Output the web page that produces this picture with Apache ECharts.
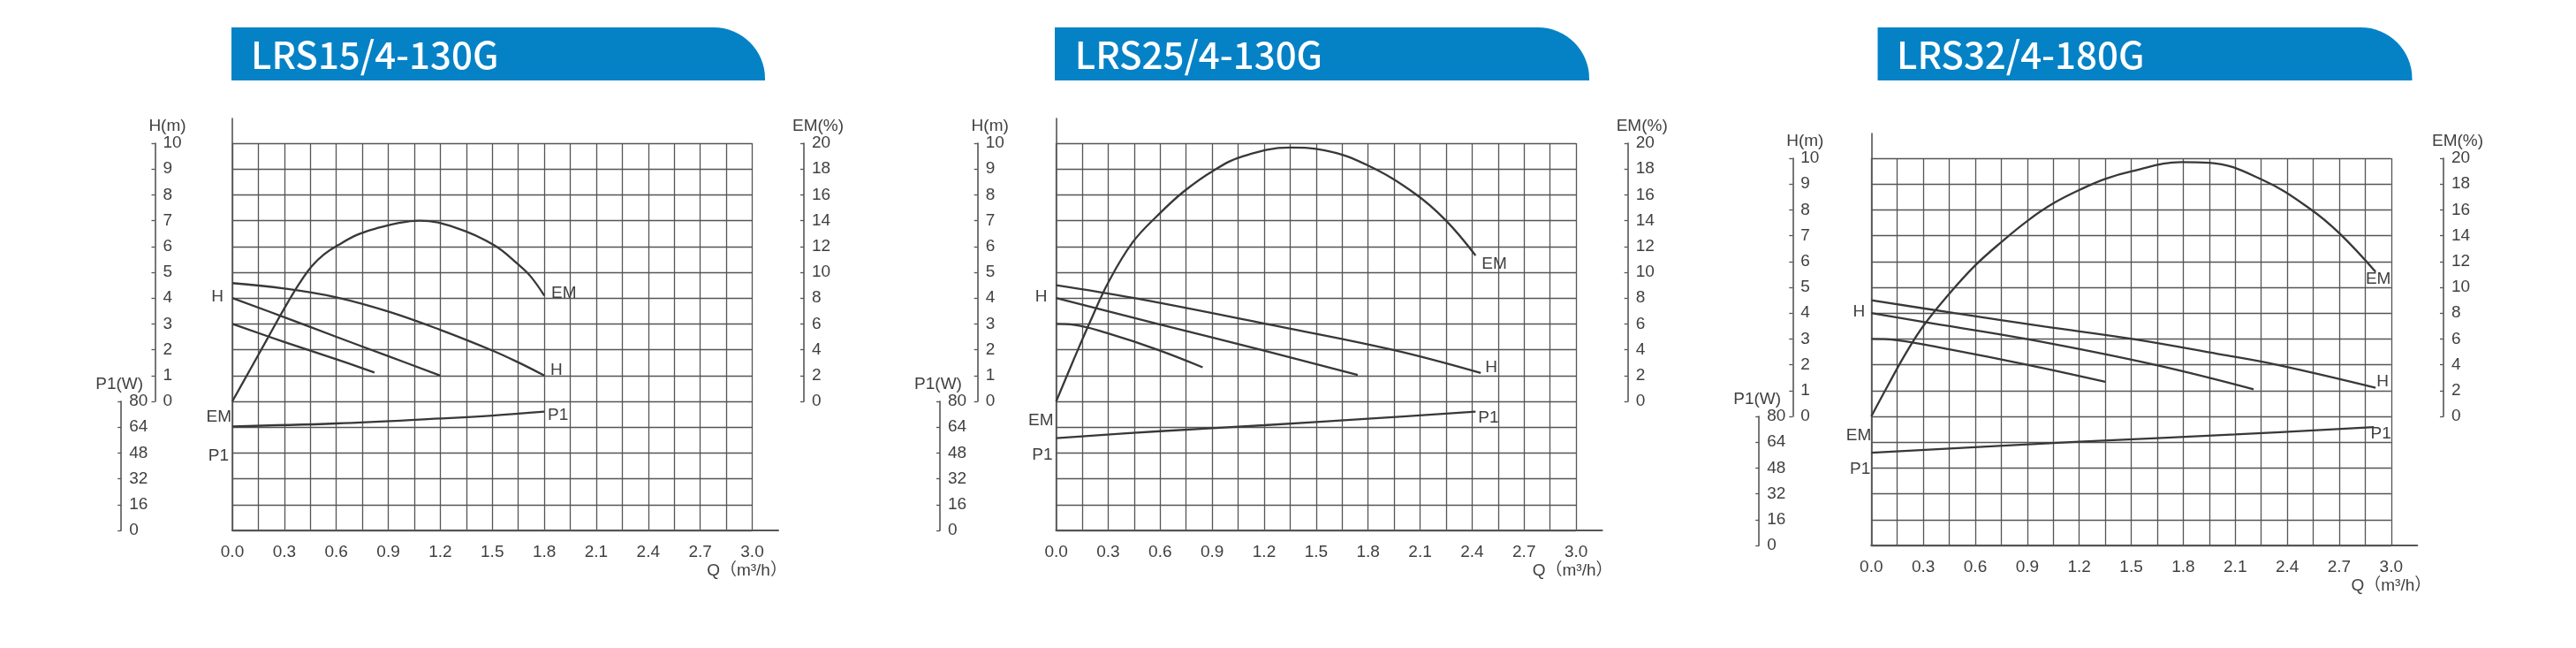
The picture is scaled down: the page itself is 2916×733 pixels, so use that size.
<!DOCTYPE html>
<html>
<head>
<meta charset="utf-8">
<script src="https://cdn.jsdelivr.net/npm/echarts@6/dist/echarts.min.js"></script>
<style>html,body{margin:0;padding:0;background:#fff}#c{width:2916px;height:733px}</style>
</head>
<body>
<div id="c"></div>
<script>
// ---------- text / tick labels ----------
const titles = ['LRS15/4-130G', 'LRS25/4-130G', 'LRS32/4-180G'];
const xTickLabels = ['0.0','0.3','0.6','0.9','1.2','1.5','1.8','2.1','2.4','2.7','3.0'];
const hTickLabels = ['0','1','2','3','4','5','6','7','8','9','10'];
const emTickLabels = ['0','2','4','6','8','10','12','14','16','18','20'];
const p1TickLabels = ['0','16','32','48','64','80'];
const xName = 'Q（m³/h）';

// ---------- chart 1: LRS15/4-130G ----------
const c1_qHtop = [0, 0.3, 0.6, 0.9, 1.2, 1.5, 1.65, 1.8];
const c1_Htop  = [4.58, 4.37, 4.03, 3.48, 2.77, 1.97, 1.51, 1.0];
const c1_qHmid = [0, 0.3, 0.6, 0.9, 1.2];
const c1_Hmid  = [4.0, 3.26, 2.5, 1.75, 1.0];
const c1_qHlow = [0, 0.3, 0.6, 0.82];
const c1_Hlow  = [3.0, 2.3, 1.63, 1.12];
const c1_qEM = [0, 0.1, 0.2, 0.3, 0.39, 0.46, 0.53, 0.61, 0.72, 0.83, 0.95, 1.08, 1.3, 1.51, 1.65, 1.72, 1.8];
const c1_EM  = [0, 2.4, 4.8, 7.2, 9.2, 10.5, 11.4, 12.1, 12.9, 13.4, 13.8, 14.0, 13.4, 12.1, 10.6, 9.7, 8.2];
const c1_qP1 = [0, 0.6, 1.2, 1.5, 1.8];
const c1_P1  = [64.5, 66.3, 69.4, 71.2, 73.6];

// ---------- chart 2: LRS25/4-130G ----------
const c2_qHtop = [0, 0.45, 1.21, 1.94, 2.45];
const c2_Htop  = [4.5, 4.0, 3.0, 2.0, 1.1];
const c2_qHmid = [0, 0.585, 1.18, 1.74];
const c2_Hmid  = [4.0, 3.0, 2.0, 1.02];
const c2_qHlow = [0, 0.1, 0.3, 0.585, 0.845];
const c2_Hlow  = [3.0, 2.97, 2.63, 2.0, 1.32];
const c2_qEM = [0, 0.1, 0.2, 0.3, 0.44, 0.585, 0.74, 0.91, 1.08, 1.35, 1.55, 1.795, 2.07, 2.25, 2.42];
const c2_EM  = [0, 3.2, 6.3, 9.2, 12.3, 14.4, 16.3, 17.9, 19.0, 19.66, 19.45, 18.3, 16.1, 14.0, 11.3];
const c2_qP1 = [0, 0.6, 1.2, 1.8, 2.42];
const c2_P1  = [57.2, 61.5, 65.2, 69.2, 73.6];

// ---------- chart 3: LRS32/4-180G ----------
const c3_qHtop = [0, 0.48, 1.0, 1.505, 2.0, 2.34, 2.91];
const c3_Htop  = [4.5, 4.0, 3.48, 3.0, 2.42, 2.0, 1.11];
const c3_qHmid = [0, 0.3, 0.894, 1.636, 2.206];
const c3_Hmid  = [4.0, 3.66, 3.0, 2.0, 1.05];
const c3_qHlow = [0, 0.15, 0.45, 0.9, 1.35];
const c3_Hlow  = [3.0, 2.95, 2.6, 2.0, 1.34];
const c3_qEM = [0, 0.1, 0.2, 0.3, 0.45, 0.6, 0.75, 0.906, 1.05, 1.21, 1.35, 1.505, 1.79, 1.95, 2.26, 2.53, 2.70, 2.91];
const c3_EM  = [0, 2.5, 4.9, 7.0, 9.5, 11.7, 13.5, 15.2, 16.5, 17.6, 18.4, 19.0, 19.7, 19.65, 18.3, 16.1, 14.2, 11.2];
const c3_qP1 = [0, 1.2, 2.1, 2.9];
const c3_P1  = [57.5, 64.3, 68.8, 73.4];

const chartsData = [
  {Htop:[c1_qHtop,c1_Htop], Hmid:[c1_qHmid,c1_Hmid], Hlow:[c1_qHlow,c1_Hlow], EM:[c1_qEM,c1_EM], P1:[c1_qP1,c1_P1]},
  {Htop:[c2_qHtop,c2_Htop], Hmid:[c2_qHmid,c2_Hmid], Hlow:[c2_qHlow,c2_Hlow], EM:[c2_qEM,c2_EM], P1:[c2_qP1,c2_P1]},
  {Htop:[c3_qHtop,c3_Htop], Hmid:[c3_qHmid,c3_Hmid], Hlow:[c3_qHlow,c3_Hlow], EM:[c3_qEM,c3_EM], P1:[c3_qP1,c3_P1]}
];

// ---------- layout / style (positions only) ----------
const FONT = '"Liberation Sans", Arial, "Noto Sans CJK SC", sans-serif';
const FS = 19;
const TXT = '#3f3f3f';
const GRIDC = '#555';
const CURVE = '#383838';
const GW = 588.5, GH = 438, HH = 292, PH = 146;
const layouts = [
  {L:263, T:162, hAx:175.5, p1Ax:137.2, emAx:910, bar:[262,866], tx:284, qGap:10,
   lab:{HmidF:{position:'left',distance:10,offset:[0,-1]}, HtopL:{position:'right',distance:7,offset:[0,-6]},
        EMF:{position:'left',distance:1,offset:[0,18]}, EML:{position:'right',distance:8,offset:[0,-3]},
        P1F:{position:'left',distance:4,offset:[0,33]}, P1L:{position:'right',distance:4,offset:[0,4]}}},
  {L:1195.6, T:162, hAx:1106.7, p1Ax:1064, emAx:1842.7, bar:[1194,1799], tx:1216.7, qGap:12,
   lab:{HmidF:{position:'left',distance:10,offset:[0,-1]}, HtopL:{position:'right',distance:5,offset:[0,-6]},
        EMF:{position:'left',distance:3,offset:[0,22]}, EML:{position:'right',distance:7,offset:[0,10]},
        P1F:{position:'left',distance:4,offset:[0,19]}, P1L:{position:'right',distance:3,offset:[0,7]}}},
  {L:2118.3, T:179, hAx:2029.3, p1Ax:1991.2, emAx:2766, bar:[2125.5,2730.5], tx:2147, qGap:16,
   lab:{HmidF:{position:'left',distance:7,offset:[0,-1]}, HtopL:{position:'right',distance:1,offset:[0,-7]},
        EMF:{position:'left',distance:0,offset:[0,22]}, EML:{position:'bottom',distance:-1,offset:[3,0]},
        P1F:{position:'left',distance:1,offset:[0,19]}, P1L:{position:'bottom',distance:-2,offset:[8,0]}}}
];

const grids = [], xAxes = [], yAxes = [], series = [], graphics = [];

function hiddenX(g){ return {type:'value', gridIndex:g, show:false, min:0, max:1}; }
function sideY(g, max, interval, ticks, name, namePad, nameGap){
  return {
    type:'value', gridIndex:g, position:'left', min:0, max:max, interval:interval,
    axisLine:{show:true, lineStyle:{color:'#555', width:1.6}},
    axisTick:{show:true, inside:false, length:4, lineStyle:{color:'#555', width:1.3}},
    axisLabel:{show:true, inside:true, margin:9, fontSize:FS, fontFamily:FONT, color:TXT,
               formatter:(v)=>ticks[Math.round(v/interval)] ?? ''},
    splitLine:{show:false},
    name:name, nameLocation:'end', nameGap:nameGap,
    nameTextStyle:{fontSize:FS, fontFamily:FONT, color:TXT, padding:namePad}
  };
}

function lineSeries(xi, yi, pair, firstLab, lastLab){
  const q = pair[0], v = pair[1];
  const data = q.map((x,i)=>{
    const item = {value:[x, v[i]]};
    if (i===0 && firstLab) item.label = Object.assign({show:true}, firstLab);
    if (i===q.length-1 && lastLab) item.label = Object.assign({show:true}, lastLab);
    return item;
  });
  return {
    type:'line', xAxisIndex:xi, yAxisIndex:yi, data:data,
    smooth:0.4, symbol:'circle', symbolSize:0.01, showSymbol:true,
    lineStyle:{color:CURVE, width:2.3}, itemStyle:{color:CURVE},
    label:{show:false, fontSize:FS, fontFamily:FONT, color:TXT},
    silent:true, animation:false, z:5
  };
}

layouts.forEach((lo, k)=>{
  const g = 5*k, xa = 5*k, ya = 7*k;
  const d = chartsData[k];
  grids.push({left:lo.L, top:lo.T, width:GW, height:GH});
  grids.push({left:lo.L, top:lo.T-28, width:GW*1.05, height:GH+28});
  grids.push({left:lo.hAx, top:lo.T, width:1, height:HH});
  grids.push({left:lo.emAx, top:lo.T, width:1, height:HH});
  grids.push({left:lo.p1Ax, top:lo.T+HH, width:1, height:PH});
  xAxes.push({type:'value', gridIndex:g, min:0, max:3, interval:0.15,
    axisLine:{show:false}, axisTick:{show:false}, axisLabel:{show:false},
    splitLine:{show:true, showMinLine:true, showMaxLine:true, lineStyle:{color:GRIDC, width:1.3}}});
  xAxes.push({type:'value', gridIndex:g+1, min:0, max:3.15, interval:0.3, position:'bottom',
    axisLine:{show:true, onZero:false, lineStyle:{color:'#555', width:2.2}},
    axisTick:{show:false}, splitLine:{show:false},
    axisLabel:{show:true, margin:15, fontSize:FS, fontFamily:FONT, color:TXT, showMaxLabel:false,
      formatter:(v)=>xTickLabels[Math.round(v/0.3)] ?? ''},
    name:xName, nameLocation:'end', nameGap:lo.qGap, nameMoveOverlap:false,
    nameTextStyle:{fontSize:FS, fontFamily:FONT, color:TXT, align:'right', verticalAlign:'top', padding:[36,0,0,0]}});
  xAxes.push(hiddenX(g+2)); xAxes.push(hiddenX(g+3)); xAxes.push(hiddenX(g+4));
  yAxes.push({type:'value', gridIndex:g, min:-5, max:10, interval:1,
    axisLine:{show:false}, axisTick:{show:false}, axisLabel:{show:false},
    splitLine:{show:true, showMinLine:true, showMaxLine:true, lineStyle:{color:GRIDC, width:1.3}}});
  yAxes.push({type:'value', gridIndex:g, min:-10, max:20, show:false});
  yAxes.push({type:'value', gridIndex:g, min:0, max:240, show:false});
  yAxes.push({type:'value', gridIndex:g+1, min:0, max:1, position:'left',
    axisLine:{show:true, onZero:false, lineStyle:{color:'#555', width:1.6}},
    axisTick:{show:false}, axisLabel:{show:false}, splitLine:{show:false}});
  yAxes.push(sideY(g+2, 10, 1, hTickLabels, 'H(m)', [0,0,0,28], 7));
  yAxes.push(sideY(g+3, 20, 2, emTickLabels, 'EM(%)', [0,0,0,32], 7));
  yAxes.push(sideY(g+4, 80, 16, p1TickLabels, 'P1(W)', [0,4,0,0], 4));
  series.push(lineSeries(xa, ya, d.Htop, null, Object.assign({formatter:'H'}, lo.lab.HtopL)));
  series.push(lineSeries(xa, ya, d.Hmid, Object.assign({formatter:'H'}, lo.lab.HmidF), null));
  series.push(lineSeries(xa, ya, d.Hlow, null, null));
  series.push(lineSeries(xa, ya+1, d.EM, Object.assign({formatter:'EM'}, lo.lab.EMF), Object.assign({formatter:'EM'}, lo.lab.EML)));
  series.push(lineSeries(xa, ya+2, d.P1, Object.assign({formatter:'P1'}, lo.lab.P1F), Object.assign({formatter:'P1'}, lo.lab.P1L)));
  graphics.push({type:'rect', shape:{x:lo.bar[0], y:31, width:lo.bar[1]-lo.bar[0], height:60, r:[0,58,0,0]},
                 style:{fill:'#0582c6'}, silent:true});
  graphics.push({type:'text', x:lo.tx, y:62, silent:true,
                 style:{text:titles[k], fill:'#fff', font:'500 42px "Noto Sans CJK SC", "Noto Sans", sans-serif', verticalAlign:'middle', align:'left'}});
});

const chart = echarts.init(document.getElementById('c'), null, {renderer:'canvas'});
chart.setOption({
  backgroundColor:'#fff',
  animation:false,
  grid:grids, xAxis:xAxes, yAxis:yAxes, series:series, graphic:graphics
});
</script>
</body>
</html>
